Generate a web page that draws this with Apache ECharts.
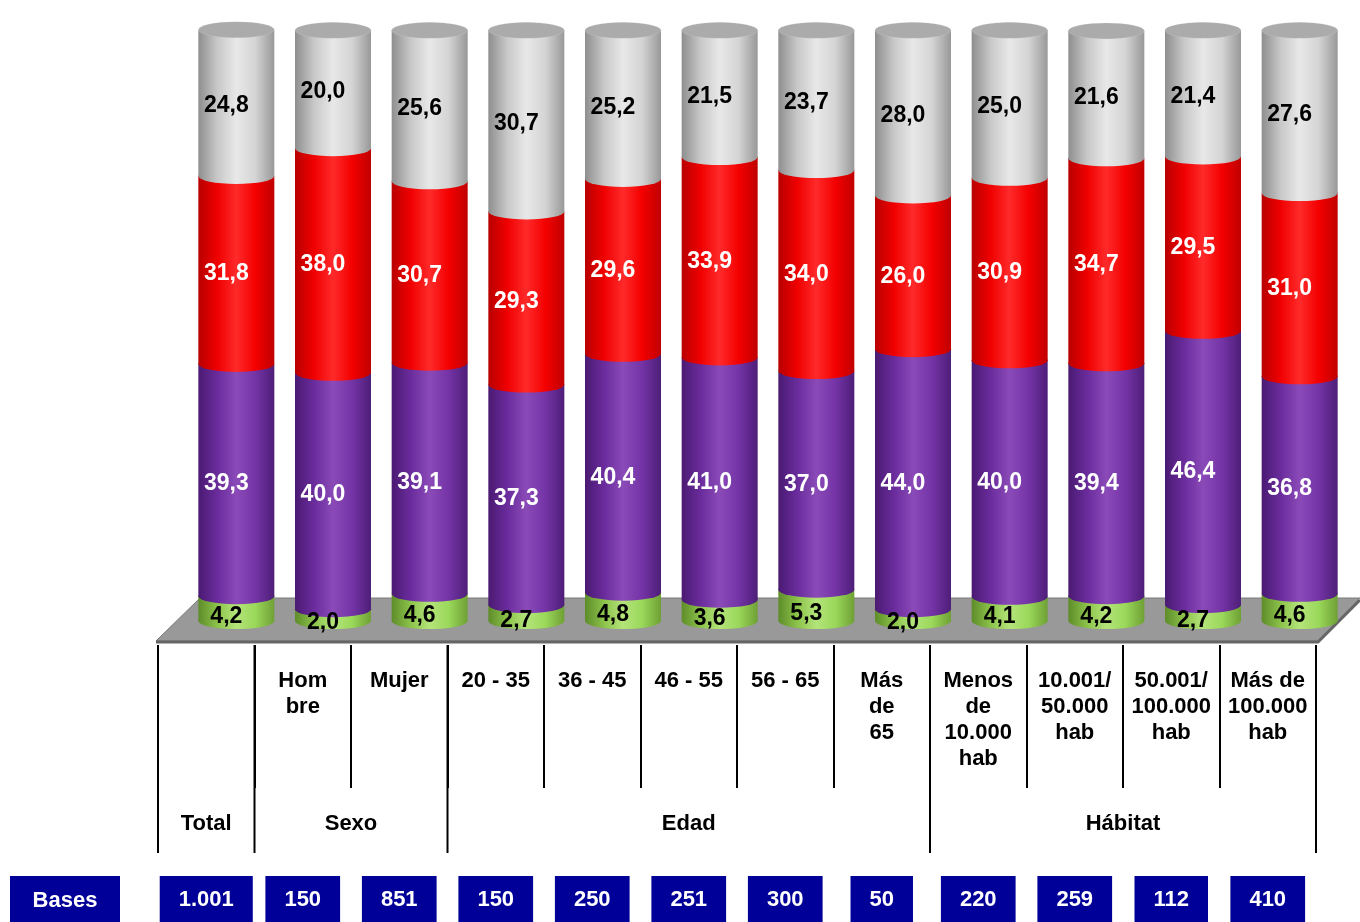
<!DOCTYPE html>
<html><head><meta charset="utf-8">
<script src="https://cdn.jsdelivr.net/npm/echarts@6/dist/echarts.min.js"></script>
<style>html,body{margin:0;padding:0;background:#fff}#c{width:1360px;height:922px}</style>
</head><body><div id="c"></div>
<script>
const categories = ['Total','Hombre','Mujer','20 - 35','36 - 45','46 - 55','56 - 65','Más de 65','Menos de 10.000 hab','10.001/ 50.000 hab','50.001/ 100.000 hab','Más de 100.000 hab'];
const tableLabels = ['', 'Hom\nbre', 'Mujer', '20 - 35', '36 - 45', '46 - 55', '56 - 65', 'Más\nde\n65', 'Menos\nde\n10.000\nhab', '10.001/\n50.000\nhab', '50.001/\n100.000\nhab', 'Más de\n100.000\nhab'];
const greenVals  = [4.2, 2.0, 4.6, 2.7, 4.8, 3.6, 5.3, 2.0, 4.1, 4.2, 2.7, 4.6];
const purpleVals = [39.3, 40.0, 39.1, 37.3, 40.4, 41.0, 37.0, 44.0, 40.0, 39.4, 46.4, 36.8];
const redVals    = [31.8, 38.0, 30.7, 29.3, 29.6, 33.9, 34.0, 26.0, 30.9, 34.7, 29.5, 31.0];
const greyVals   = [24.8, 20.0, 25.6, 30.7, 25.2, 21.5, 23.7, 28.0, 25.0, 21.6, 21.4, 27.6];
const bases = ['1.001','150','851','150','250','251','300','50','220','259','112','410'];
const groupNames = ['Total','Sexo','Edad','Hábitat'];
const groupSpans = [1, 2, 5, 4];

const FONT = "'Liberation Sans', Arial, sans-serif";
const grad = (stops) => ({type:'linear', x:0, y:0, x2:1, y2:0, colorStops: stops.map((c,i)=>({offset:i/(stops.length-1), color:c}))});
const greenG  = grad(['#5e8c2a','#8cc34a','#b4e47a','#9ad85a','#6fa035']);
const purpleG = grad(['#4a1a72','#6a2c9c','#8a4ab8','#7434a6','#4e1e78']);
const redG    = grad(['#b80000','#f00000','#ff2a2a','#f40000','#c00000']);
const greyG   = grad(['#8e8e8e','#c8c8c8','#e8e8e8','#d4d4d4','#989898']);

const fmt = v => v.toFixed(1).replace('.', ',');
const cum1 = greenVals.map((v,i)=>v);
const cum2 = greenVals.map((v,i)=>v+purpleVals[i]);
const cum3 = greenVals.map((v,i)=>v+purpleVals[i]+redVals[i]);
const cum4 = greenVals.map((v,i)=>v+purpleVals[i]+redVals[i]+greyVals[i]);

const BW = 76, EH = 16;
function barSeries(vals, color){
  return {type:'bar', stack:'s', data: vals, barWidth: BW, barGap:'-100%',
    xAxisIndex:0, yAxisIndex:0, z:2, itemStyle:{color}, silent:true};
}
function labelSeries(vals, labelColor, offset){
  return {type:'bar', stack:'lab', data: vals, barWidth: BW, barGap:'-100%',
    xAxisIndex:0, yAxisIndex:0, z:10, itemStyle:{color:'rgba(0,0,0,0)'}, silent:true,
    label:{show:true, position:'inside', formatter: p=>fmt(p.value), color:labelColor,
      fontFamily:FONT, fontWeight:'bold', fontSize:23, offset: offset}};
}
function capSeries(vals, color){
  return {type:'pictorialBar', data: vals, symbol:'circle', symbolSize:[BW, EH],
    symbolPosition:'end', symbolOffset:[0, '-50%'], barWidth: BW, barGap:'-100%',
    xAxisIndex:0, yAxisIndex:0, z:3, itemStyle:{color}, silent:true};
}

const series = [
  {type:'pictorialBar', data: greenVals, symbol:'circle', symbolSize:[BW, EH], symbolPosition:'start',
    symbolOffset:[0,'50%'], barWidth:BW, barGap:'-100%', z:1, itemStyle:{color:greenG}, silent:true},
  barSeries(greenVals, greenG),
  barSeries(purpleVals, purpleG),
  barSeries(redVals, redG),
  barSeries(greyVals, greyG),
  capSeries(cum1, purpleG),
  capSeries(cum2, redG),
  capSeries(cum3, greyG),
  Object.assign(capSeries(cum4, '#a9a9a9'), {itemStyle:{color:'#ababab', borderColor:'#e4e4e4', borderWidth:1.5}}),
  labelSeries(greenVals, '#000', [-10, 8]),
  labelSeries(purpleVals, '#fff', [-10, 4]),
  labelSeries(redVals, '#fff', [-10, 4]),
  labelSeries(greyVals, '#000', [-10, 3]),
  {type:'custom', xAxisIndex:2, yAxisIndex:2, data: groupNames.map((n,i)=>[i]),
    renderItem: (params, api) => {
      const i = params.dataIndex;
      let start = 0; for (let k=0;k<i;k++) start += groupSpans[k];
      const end = start + groupSpans[i];
      const top = api.coord([start, 1]), bot = api.coord([start, 0]);
      const endTop = api.coord([end, 1]);
      const children = [
        {type:'line', shape:{x1:top[0], y1:top[1], x2:bot[0], y2:bot[1]}, style:{stroke:'#000', lineWidth:2}},
        {type:'text', x:(top[0]+endTop[0])/2, y:bot[1]-29, style:{text:groupNames[i], fill:'#000',
          font:'bold 22px ' + FONT, align:'center', verticalAlign:'middle'}}
      ];
      if (i === groupNames.length-1) children.push({type:'line', shape:{x1:endTop[0], y1:endTop[1], x2:endTop[0], y2:bot[1]}, style:{stroke:'#000', lineWidth:2}});
      return {type:'group', children};
    }}
];

const option = {
  backgroundColor:'#fff',
  animation:false,
  grid:[
    {left:188, right:12, top:30, bottom:301},
    {left:158, right:44, top:645, height:143},
    {left:158, right:44, top:645, height:208},
    {left:158, right:44, top:870, height:1}
  ],
  xAxis:[
    {gridIndex:0, type:'category', data:categories, show:false},
    {gridIndex:1, type:'category', data:tableLabels, position:'top',
      axisLine:{show:false}, axisTick:{show:false},
      splitLine:{show:true, lineStyle:{color:'#000', width:2}},
      axisLabel:{inside:true, interval:0, margin:23, verticalAlign:'top', color:'#000',
        fontFamily:FONT, fontWeight:'bold', fontSize:22, lineHeight:26}},
    {gridIndex:2, type:'value', min:0, max:12, show:false},
    {gridIndex:3, type:'category', data:bases, position:'bottom',
      axisLine:{show:false}, axisTick:{show:false},
      axisLabel:{interval:0, margin:5, color:'#fff', backgroundColor:'#000099',
        padding:[12,19,10,19], fontFamily:FONT, fontWeight:'bold', fontSize:22, lineHeight:24}}
  ],
  yAxis:[
    {gridIndex:0, type:'value', min:0, max:100, show:false},
    {gridIndex:1, type:'value', show:false},
    {gridIndex:2, type:'value', min:0, max:1, show:false},
    {gridIndex:3, type:'value', show:false}
  ],
  graphic:[
    {type:'polygon', z:0, shape:{points:[[156,641],[200,598],[1360,598],[1318,641]]},
      style:{fill:'#999999', stroke:'#7a7a7a', lineWidth:1}},
    {type:'polyline', z:0, shape:{points:[[156,642],[1318,642],[1360,600]]}, style:{stroke:'#666', lineWidth:3, fill:null}},
    {type:'rect', shape:{x:10, y:876, width:110, height:46}, style:{fill:'#000099'}},
    {type:'text', x:65, y:901, style:{text:'Bases', fill:'#fff', font:'bold 22px ' + FONT, align:'center', verticalAlign:'middle'}}
  ],
  series
};
const chart = echarts.init(document.getElementById('c'), null, {renderer:'canvas'});
chart.setOption(option);
</script>
</body></html>
